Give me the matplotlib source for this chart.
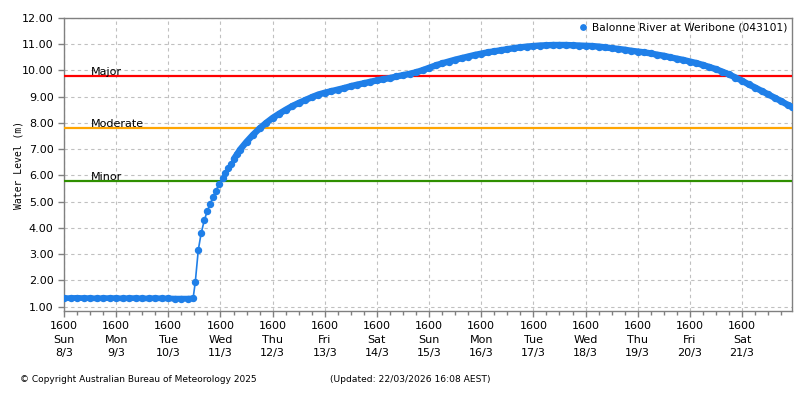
import matplotlib
matplotlib.use("Agg")
import matplotlib.pyplot as plt
from matplotlib.ticker import FixedLocator, MultipleLocator, FormatStrFormatter

# ---- data (hours since Sun 8/3 16:00, water level m) ----
hours = [0, 3, 6, 9, 12, 15, 18, 21, 24, 27, 30, 33, 36, 39, 42, 45, 48, 51, 54, 57, 59.4,
         60.4, 61.8, 63.1, 64.6, 65.9, 67.2, 68.6, 69.8, 71.4, 73.0, 74.2, 75.6, 76.9, 78.2, 79.7,
         81, 84, 87, 90, 93, 96, 99, 102, 105, 108, 111, 114, 117, 120, 123, 126, 129, 132,
         135, 138, 141, 144, 147, 150, 153, 156, 159, 162, 165, 168, 171, 174, 177, 180, 183,
         186, 189, 192, 195, 198, 201, 204, 207, 210, 213, 216, 219, 222, 225, 228, 231, 234,
         237, 240, 243, 246, 249, 252, 255, 258, 261, 264, 267, 270, 273, 276, 279, 282, 285,
         288, 291, 294, 297, 300, 303, 306, 309, 312, 315, 318, 321, 324, 327, 330, 333, 335]
levels = [1.32, 1.32, 1.33, 1.32, 1.32, 1.31, 1.32, 1.32, 1.32, 1.31, 1.32, 1.32, 1.31, 1.31,
          1.32, 1.31, 1.31, 1.30, 1.30, 1.30, 1.31,
          1.92, 3.16, 3.79, 4.30, 4.63, 4.91, 5.17, 5.42, 5.66, 5.89, 6.08, 6.27, 6.44, 6.63, 6.81,
          6.98, 7.28, 7.55, 7.79, 8.00, 8.19, 8.35, 8.50, 8.64, 8.76, 8.87, 8.98, 9.08, 9.15,
          9.21, 9.27, 9.33, 9.40, 9.46, 9.51, 9.57, 9.62, 9.67, 9.71, 9.77, 9.82, 9.87, 9.93,
          10.01, 10.10, 10.19, 10.27, 10.34, 10.41, 10.47, 10.53, 10.59, 10.64, 10.69, 10.73,
          10.77, 10.81, 10.85, 10.88, 10.91, 10.93, 10.95, 10.96, 10.97, 10.97, 10.97, 10.96,
          10.95, 10.94, 10.93, 10.91, 10.88, 10.85, 10.82, 10.79, 10.75, 10.72, 10.69, 10.65,
          10.60, 10.56, 10.50, 10.45, 10.40, 10.34, 10.28, 10.21, 10.13, 10.05, 9.95, 9.85,
          9.73, 9.61, 9.47, 9.35, 9.22, 9.09, 8.96, 8.83, 8.69, 8.62]

series_name = "Balonne River at Weribone (043101)"

thr_names = ["Major", "Moderate", "Minor"]
thr_levels = [9.80, 7.82, 5.79]
thr_colors = ["#ff0000", "#ffa500", "#2f8f00"]

day_names = ["Sun", "Mon", "Tue", "Wed", "Thu", "Fri", "Sat",
             "Sun", "Mon", "Tue", "Wed", "Thu", "Fri", "Sat"]
day_dates = ["8/3", "9/3", "10/3", "11/3", "12/3", "13/3", "14/3",
             "15/3", "16/3", "17/3", "18/3", "19/3", "20/3", "21/3"]
tick_hour_label = "1600"

# ---- figure ----
fig = plt.figure(figsize=(8, 4), dpi=100)
ax = fig.add_axes([0.08, 0.2225, 0.91, 0.7325])

line_color = "#1f7fe8"
# dense (hourly-looking) stretches drawn as a solid band
ax.plot(hours[:21], levels[:21], color=line_color, lw=4.2, solid_capstyle="butt", zorder=4)
ax.plot(hours[34:], levels[34:], color=line_color, lw=4.6, solid_capstyle="round", zorder=4)
ax.plot(hours, levels, color=line_color, lw=1.2, marker="o", ms=4.3, mec=line_color,
        mfc=line_color, label=series_name, zorder=4)

for name, lvl, c in zip(thr_names, thr_levels, thr_colors):
    ax.axhline(lvl, color=c, lw=1.6, zorder=3)
    ax.text(12.5, lvl - 0.04, name, fontsize=8, color="black", ha="left", va="bottom", zorder=5)

ax.set_xlim(0, 335)
ax.set_ylim(0.83, 12)

major_x = [24 * i for i in range(len(day_names))]
ax.xaxis.set_major_locator(FixedLocator(major_x))
ax.set_xticklabels([f"{tick_hour_label}\n{d}\n{dt}" for d, dt in zip(day_names, day_dates)],
                   linespacing=1.4)
ax.xaxis.set_minor_locator(MultipleLocator(6))
ax.yaxis.set_major_locator(MultipleLocator(1))
ax.yaxis.set_major_formatter(FormatStrFormatter("%.2f"))

ax.tick_params(axis="both", which="both", direction="out", colors="#808080",
               labelcolor="black", labelsize=8)
ax.tick_params(axis="both", which="major", length=4, width=1)
ax.tick_params(axis="x", which="minor", length=3, width=1)

for s in ax.spines.values():
    s.set_color("#808080")
    s.set_linewidth(1)

ax.grid(True, which="major", color="#c0c0c0", linestyle=(0, (3, 3)), lw=0.8)
ax.set_axisbelow(True)

ax.set_ylabel("Water Level (m)", fontsize=7, family="DejaVu Sans Mono", labelpad=-1)

leg = ax.legend(loc="upper right", frameon=False, fontsize=7.7, handlelength=0.6,
                handletextpad=0.6, borderaxespad=0.1, borderpad=0.3, markerscale=0.9)
for h in leg.legend_handles:
    h.set_linestyle("None")

fig.text(20 / 800, 1 - 380 / 400, "\u00a9 Copyright Australian Bureau of Meteorology 2025",
         fontsize=6.5, va="center", ha="left")
fig.text(330 / 800, 1 - 380 / 400, "(Updated: 22/03/2026 16:08 AEST)",
         fontsize=6.6, va="center", ha="left")

fig.savefig("out.png", dpi=100)
